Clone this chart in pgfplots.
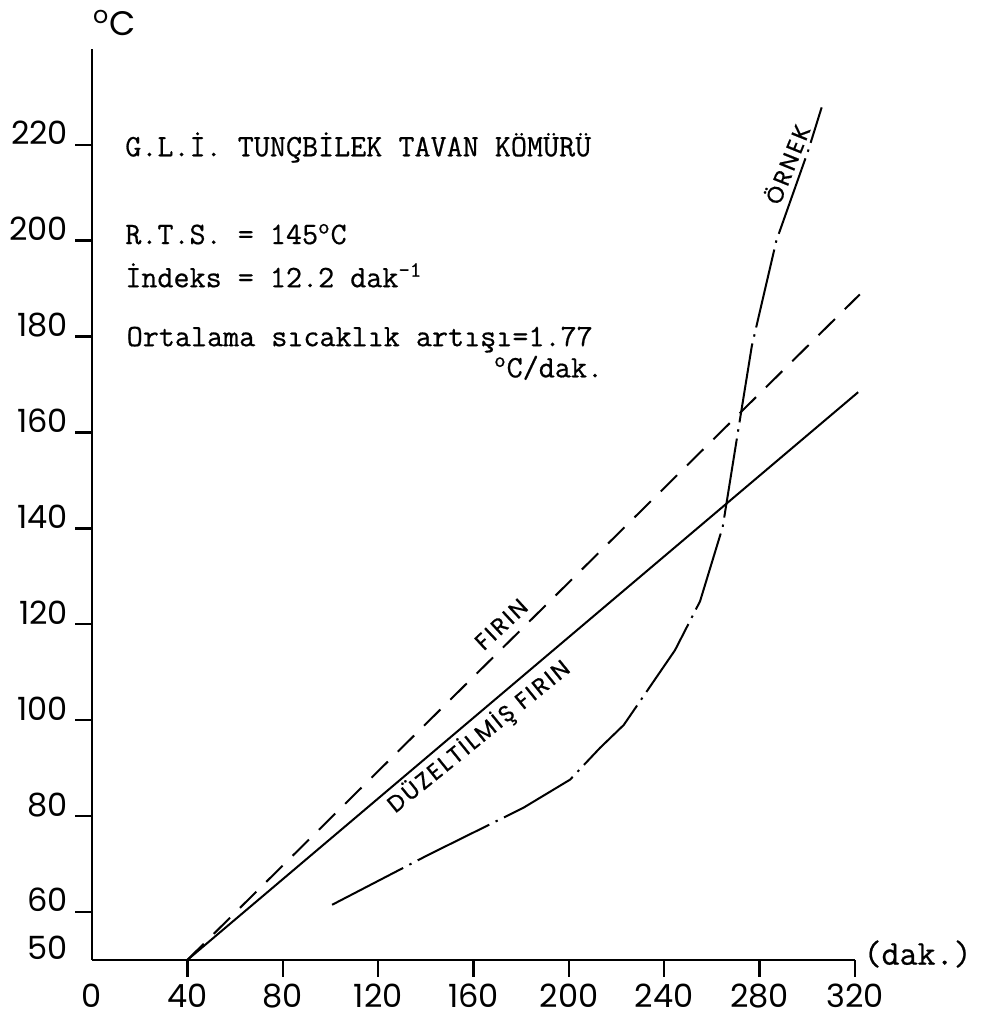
\documentclass[border=0pt]{standalone}
\usepackage{fontspec}
\usepackage{pgfplots}
\pgfplotsset{compat=1.18}
\newfontfamily\numfont{Poppins}
\newfontfamily\lblfont[FakeBold=0.6, LetterSpace=10]{Poppins}
\newfontfamily\tw[FakeBold=0.6]{Latin Modern Mono}

\begin{document}
\begin{tikzpicture}
\begin{axis}[
  scale only axis,
  width=381.5pt, height=455.5pt,
  xmin=0, xmax=320, ymin=50, ymax=240,
  axis x line=bottom, axis y line=left,
  axis line style={-, line width=1.2pt},
  xtick={40,80,...,320}, ytick={60,80,...,220},
  extra x ticks={0}, extra y ticks={50},
  extra tick style={major tick style={draw=none}},
  tick align=outside, major tick length=8.5pt,
  tick style={line width=1.2pt, black},
  /pgf/number format/assume math mode=true,
  ticklabel style={font=\numfont\fontsize{16}{16}\selectfont},
  yticklabel style={anchor=base east, inner ysep=0pt},
  clip=false,
]
% FIRIN (dashed)
\addplot[black, line width=1pt, dash pattern=on 11.5pt off 7pt] coordinates {(40,50) (322,188.8)};
% DUZELTILMIS FIRIN (solid)
\addplot[black, line width=1pt] coordinates {(40,50) (321.3,168.4)};
% ORNEK (dash-dot)
\addplot[black, line width=1pt, dash pattern=on 40pt off 3.5pt on 1.2pt off 3.5pt] coordinates {
  (100.7,61.5) (141,71.9) (180.8,81.7) (200.5,87.6) (213,94.2) (223,99)
  (244.5,114.6) (255,124.8) (264.5,140.3) (270.4,158.6) (276.7,178)
  (287,200) (300.5,219) (306,227.8)};

\node[font=\tw\fontsize{15.6}{15.6}\selectfont, anchor=base west, inner sep=0] at (axis cs:13.8,217.6) {G.L.İ. TUNÇBİLEK TAVAN KÖMÜRÜ};
\node[font=\tw\fontsize{15.6}{15.6}\selectfont, anchor=base west, inner sep=0] at (axis cs:13.8,199.3) {R.T.S. = 145\textsuperscript{o}C};
\node[font=\tw\fontsize{15.6}{15.6}\selectfont, anchor=base west, inner sep=0] at (axis cs:13.8,190.3) {İndeks = 12.2 dak\textsuperscript{-1}};
\node[font=\tw\fontsize{15.6}{15.6}\selectfont, anchor=base west, inner sep=0] at (axis cs:14.4,178.0) {Ortalama sıcaklık artışı=1.77};
\node[font=\tw\fontsize{15.6}{15.6}\selectfont, anchor=base east, inner sep=0] at (axis cs:214.5,171.5) {\textsuperscript{o}C/dak.};

\node[font=\numfont\fontsize{17}{17}\selectfont, anchor=base west, inner sep=0] at (axis cs:0.3,242.7) {\textsuperscript{o}C};
\node[font=\tw\fontsize{17.5}{17.5}\selectfont, anchor=base west, inner sep=0] at (axis cs:323.4,49) {(dak.)};

\node[rotate=43, font=\lblfont\fontsize{11.5}{11.5}\selectfont] at (axis cs:171.6,120) {FIRIN};
\node[rotate=39, font=\lblfont\fontsize{11.5}{11.5}\selectfont] at (axis cs:162.3,96.5) {DÜZELTİLMİŞ FIRIN};
\node[rotate=68, font=\lblfont\fontsize{11.5}{11.5}\selectfont] at (axis cs:291.1,216) {ÖRNEK};

\coordinate (bbsw) at (axis cs:-38.59,37.47);
\coordinate (bbne) at (axis cs:373.32,250.2);
\end{axis}
\pgfresetboundingbox
\path[use as bounding box] (bbsw) rectangle (bbne);
\end{tikzpicture}
\end{document}
